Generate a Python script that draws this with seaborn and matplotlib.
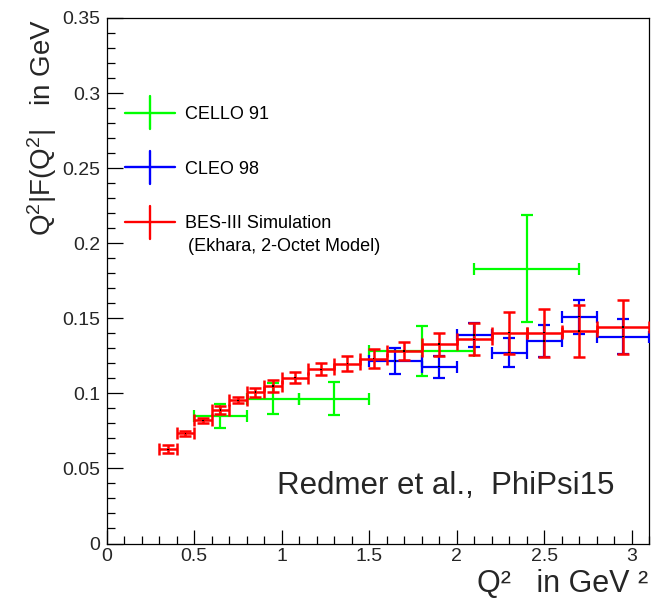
import matplotlib
matplotlib.use("Agg")
import matplotlib.pyplot as plt
import seaborn as sns
import pandas as pd
import numpy as np
from matplotlib.ticker import MultipleLocator, FuncFormatter

# ---------------- data ----------------
bes_x = [0.35, 0.45, 0.55, 0.65, 0.75, 0.85, 0.95, 1.075, 1.225, 1.375, 1.525,
         1.70, 1.90, 2.10, 2.30, 2.50, 2.70, 2.95]
bes_xerr = [0.05, 0.05, 0.05, 0.05, 0.05, 0.05, 0.05, 0.075, 0.075, 0.075, 0.075,
            0.1, 0.1, 0.1, 0.1, 0.1, 0.1, 0.15]
bes_y = [0.0627, 0.0733, 0.0820, 0.0889, 0.0953, 0.1009, 0.1049, 0.1105, 0.1160,
         0.1198, 0.1231, 0.1282, 0.1327, 0.1360, 0.1404, 0.1404, 0.1415, 0.1442]
bes_yerr = [0.0027, 0.0018, 0.0019, 0.0025, 0.0020, 0.0030, 0.0038, 0.0038, 0.0040,
            0.0050, 0.0065, 0.0059, 0.0078, 0.0106, 0.0139, 0.0160, 0.0172, 0.0183]

cleo_x = [1.65, 1.90, 2.10, 2.30, 2.50, 2.70, 2.95]
cleo_xerr = [0.15, 0.1, 0.1, 0.1, 0.1, 0.1, 0.15]
cleo_y = [0.1215, 0.1178, 0.1389, 0.1271, 0.1349, 0.1511, 0.1378]
cleo_yerr = [0.0084, 0.0074, 0.0082, 0.0097, 0.0106, 0.0113, 0.0119]

cello_x = [0.65, 0.95, 1.30, 1.80, 2.40]
cello_xerr = [0.15, 0.15, 0.20, 0.30, 0.30]
cello_y = [0.0849, 0.0965, 0.0965, 0.1282, 0.1831]
cello_yerr = [0.0081, 0.0102, 0.0109, 0.0167, 0.0359]

labels = ["CELLO 91", "CLEO 98", "BES-III Simulation"]
label_sub = "(Ekhara, 2-Octet Model)"
colors = ["#00ff00", "#0000ff", "#ff0000"]
xlabel = "Q\u00b2   in GeV \u00b2"
ylabel = r"$Q^{2}$|F($Q^{2}$|   in GeV"
annot = "Redmer et al.,  PhiPsi15"

# ---------------- style ----------------
sns.set_theme(style="white")
plt.rcParams["font.family"] = ["Liberation Sans", "DejaVu Sans"]
plt.rcParams["mathtext.default"] = "regular"
plt.rcParams["axes.edgecolor"] = "black"
plt.rcParams["axes.linewidth"] = 0.9

W, H = 652, 600
fig = plt.figure(figsize=(W / 100, H / 100), dpi=100)
fig.patch.set_facecolor("white")
x0, x1, ytop, ybot = 106.7, 649.2, 18.0, 543.5
ax = fig.add_axes([x0 / W, (H - ybot) / H, (x1 - x0) / W, (ybot - ytop) / H])
ax.set_facecolor("white")

def draw(xs, xe, ys, ye, color, lw, z):
    ax.errorbar(xs, ys, xerr=xe, yerr=ye, fmt="none", ecolor=color,
                elinewidth=lw, capsize=4.0, capthick=lw, zorder=z)

draw(cello_x, cello_xerr, cello_y, cello_yerr, colors[0], 1.6, 3)
draw(cleo_x, cleo_xerr, cleo_y, cleo_yerr, colors[1], 1.6, 4)
draw(bes_x, bes_xerr, bes_y, bes_yerr, colors[2], 1.8, 5)

centers = pd.DataFrame({"x": bes_x + cleo_x, "y": bes_y + cleo_y})
sns.scatterplot(data=centers, x="x", y="y", ax=ax, marker="s", s=1.2,
                color="black", edgecolor="none", zorder=6, legend=False)

ax.set_xlim(0, 3.1)
ax.set_ylim(0, 0.35)
ax.set_xlabel("")
ax.set_ylabel("")
ax.xaxis.set_major_locator(MultipleLocator(0.5))
ax.xaxis.set_minor_locator(MultipleLocator(0.1))
ax.yaxis.set_major_locator(MultipleLocator(0.05))
ax.yaxis.set_minor_locator(MultipleLocator(0.01))
fmt = FuncFormatter(lambda v, p: ("%g" % round(v, 3)))
ax.xaxis.set_major_formatter(fmt)
ax.yaxis.set_major_formatter(fmt)
ax.tick_params(axis="x", which="major", direction="in", length=10, width=0.9,
               labelsize=14, pad=3.5, top=False, bottom=True, color="black")
ax.tick_params(axis="x", which="minor", direction="in", length=5.5, width=0.9,
               top=False, bottom=True, color="black")
ax.tick_params(axis="y", which="major", direction="in", length=11.5, width=0.9,
               labelsize=14, pad=4.5, right=False, left=True, color="black")
ax.tick_params(axis="y", which="minor", direction="in", length=5.8, width=0.9,
               right=False, left=True, color="black")
for s in ax.spines.values():
    s.set_visible(True)
    s.set_color("black")
    s.set_linewidth(0.9)

# ---------------- legend (drawn by hand, ROOT style) ----------------
def fx(px):
    return px / W

def fy(py):
    return (H - py) / H

leg_y = [112.5, 167.0, 222.0]
leg_base = [119.3, 173.5, 227.7]
for c, yc, yb, lab in zip(colors, leg_y, leg_base, labels):
    fig.add_artist(plt.Line2D([fx(125), fx(175)], [fy(yc), fy(yc)], color=c,
                              lw=1.7, transform=fig.transFigure))
    fig.add_artist(plt.Line2D([fx(149.5), fx(149.5)], [fy(yc - 16.5), fy(yc + 16.5)],
                              color=c, lw=1.7, transform=fig.transFigure))
    fig.text(fx(185), fy(yb), lab, fontsize=13, ha="left", va="baseline", color="black")
fig.text(fx(188.5), fy(251), label_sub, fontsize=13, ha="left", va="baseline", color="black")

# ---------------- titles / annotation ----------------
fig.text(fx(648), fy(599.5), xlabel, fontsize=22, ha="right", va="bottom")
fig.text(fx(42), fy(19), ylabel, fontsize=20, rotation=90, ha="center", va="top")
fig.text(fx(276.7), fy(494.3), annot, fontsize=22.5, ha="left", va="baseline")

fig.savefig("out.png", dpi=100, facecolor="white")
